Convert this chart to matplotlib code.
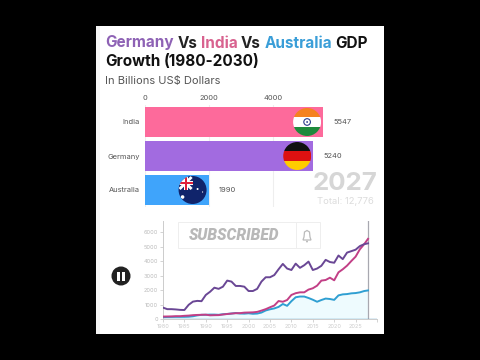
import numpy as np
import matplotlib
matplotlib.use("Agg")
import matplotlib.pyplot as plt
from matplotlib.patches import Circle, Rectangle, Polygon

# ---- data ----
countries = ["India", "Germany", "Australia"]
current_values = [5547, 5240, 1990]
bar_colors = ["#fd6a9b", "#a26be0", "#3fa4fb"]
bar_ticks = [0, 2000, 4000]
year_label = "2027"
total_label = "Total: 12,776"

years = list(range(1980, 2028)) + [2027.9]
germany = [805, 700, 700, 680, 650, 640, 1000, 1220, 1270, 1250, 1680, 1900, 2180, 2100, 2250,
           2670, 2600, 2300, 2300, 2250, 1950, 1950, 2100, 2600, 2900, 2900, 3050, 3450, 3820,
           3500, 3400, 3840, 3550, 3730, 3980, 3400, 3500, 3690, 4100, 3950, 3900, 4400, 4150,
           4600, 4700, 4800, 5050, 5180, 5240]
india = [190, 195, 200, 215, 215, 240, 255, 285, 300, 310, 320, 275, 285, 290, 330,
         365, 395, 420, 425, 460, 470, 480, 510, 600, 700, 830, 950, 1260, 1210, 1330,
         1680, 1800, 1860, 1860, 2050, 2140, 2320, 2670, 2710, 2870, 2690, 3240, 3450,
         3700, 4020, 4320, 4830, 5180, 5547]
australia = [150, 160, 165, 170, 170, 170, 180, 210, 270, 310, 310, 325, 325, 310, 350,
             370, 400, 435, 400, 390, 415, 380, 395, 465, 610, 690, 750, 855, 1055, 930,
             1250, 1520, 1570, 1570, 1470, 1350, 1210, 1330, 1430, 1400, 1340, 1650, 1720,
             1740, 1790, 1810, 1860, 1950, 1990]
line_xticks = [1980, 1985, 1990, 1995, 2000, 2005, 2010, 2015, 2020, 2025, 2030]
line_xlabels = ["1980", "1985", "1990", "1995", "2000", "2005", "2010", "2015", "2020", "2025", ""]
line_yticks = [0, 1000, 2000, 3000, 4000, 5000, 6000]

W, H = 480, 360
FONT = "Inter"
plt.rcParams["font.family"] = FONT
fig = plt.figure(figsize=(W / 100, H / 100), dpi=100, facecolor="black")


def pix_axes(l, t, r, b, **kw):
    return fig.add_axes([l / W, 1 - b / H, (r - l) / W, (b - t) / H], **kw)


# pixel-space canvas for panel and decoration
bg = pix_axes(0, 0, W, H, zorder=0)
bg.set_xlim(0, W); bg.set_ylim(H, 0); bg.axis("off")
bg.add_patch(Rectangle((96, 26), 288, 308, fc="white", ec="none"))
bg.add_patch(Rectangle((96, 26), 4, 308, fc="#f4f4f4", ec="none"))

renderer = fig.canvas.get_renderer()


def runs(x, y, parts, size, weight="bold"):
    for s, c in parts:
        t = bg.text(x, y, s, color=c, fontsize=size, fontweight=weight, va="center", ha="left")
        x = t.get_window_extent(renderer).x1 + 3.6


runs(105, 43, [("Germany", "#8e62b5"), ("Vs", "#222222"), ("India", "#d8628f"), ("Vs", "#222222"),
               ("Australia", "#3a9ed8"), ("GDP", "#111111")], 11.0)
runs(105, 62, [("Growth", "#111111"), ("(1980-2030)", "#111111")], 11.0)
bg.text(105, 81, "In Billions US$ Dollars", color="#555555", fontsize=8.0, va="center")

# bar chart
ax = pix_axes(144.5, 105, 384, 207, zorder=1)
ax.patch.set_alpha(0)
ax.set_xlim(0, 239.5 / 0.0322)
ax.set_ylim(2.5, -0.5)
ypos = np.arange(len(countries))
ax.barh(ypos, current_values, height=30 / 34, color=bar_colors, zorder=2)
ax.set_xticks(bar_ticks)
ax.xaxis.tick_top()
ax.set_xticklabels([str(v) for v in bar_ticks], fontsize=5.4, color="#555555")
ax.set_yticks(ypos)
ax.set_yticklabels(countries, fontsize=5.4, color="#555555")
ax.tick_params(length=0, pad=3)
ax.tick_params(axis="y", pad=3.5)
for s in ax.spines.values():
    s.set_visible(False)
ax.grid(axis="x", color="#eeeeee", lw=0.8, zorder=1)
for y, v in zip(ypos, current_values):
    ax.annotate(str(v), (v, y), xytext=(10, 0), textcoords="offset pixels", fontsize=5.4,
                color="#555555", va="center", ha="left")

# flags in pixel coordinates, following the bar ends
fg = pix_axes(0, 0, W, H, zorder=3)
fg.set_xlim(0, W); fg.set_ylim(H, 0); fg.axis("off"); fg.patch.set_alpha(0)


def bar_end_px(y, v):
    px = ax.transData.transform((v, y))
    return px[0] - 16, H - px[1]


def clip_circle(cx, cy, r, fc="none"):
    c = Circle((cx, cy), r, fc=fc, ec="none", zorder=4)
    fg.add_patch(c)
    return c


def stripes(cx, cy, r, colors):
    clip = clip_circle(cx, cy, r)
    h = 2 * r / len(colors)
    for i, col in enumerate(colors):
        p = Rectangle((cx - r, cy - r + i * h), 2 * r, h, fc=col, ec="none", zorder=5)
        fg.add_patch(p)
        p.set_clip_path(clip)


cx, cy = bar_end_px(0, current_values[0])
stripes(cx, cy, 14, ["#f58220", "#ffffff", "#1e8a3c"])
fg.add_patch(Circle((cx, cy), 3.3, fc="none", ec="#2a3a8c", lw=0.8, zorder=6))
fg.add_patch(Circle((cx, cy), 0.9, fc="#2a3a8c", ec="none", zorder=6))

cx, cy = bar_end_px(1, current_values[1])
stripes(cx, cy, 14, ["#111111", "#dd1111", "#ffcc00"])

cx, cy = bar_end_px(2, current_values[2])
clip = clip_circle(cx, cy, 14, fc="#10246b")
items = [Rectangle((cx - 14, cy - 14), 14, 14, fc="#1a2a70", ec="none", zorder=5),
         Polygon([(cx - 14, cy - 12), (cx - 12, cy - 14), (cx, cy - 2), (cx - 2, cy)], fc="white", ec="none", zorder=6),
         Polygon([(cx - 14, cy - 2), (cx - 12, cy), (cx, cy - 12), (cx - 2, cy - 14)], fc="white", ec="none", zorder=6),
         Rectangle((cx - 14, cy - 9), 14, 4, fc="white", ec="none", zorder=6),
         Rectangle((cx - 9, cy - 14), 4, 14, fc="white", ec="none", zorder=6),
         Rectangle((cx - 14, cy - 8), 14, 2, fc="#e0203a", ec="none", zorder=7),
         Rectangle((cx - 8, cy - 14), 2, 14, fc="#e0203a", ec="none", zorder=7),
         Circle((cx - 10, cy + 7), 1.8, fc="white", ec="none", zorder=6),
         Circle((cx + 5, cy - 1), 1, fc="white", ec="none", zorder=6),
         Circle((cx + 10, cy + 2), 0.6, fc="white", ec="none", zorder=6)]
for it in items:
    fg.add_patch(it)
    it.set_clip_path(clip)

fg.text(345, 183, year_label, fontsize=18.6, fontweight="bold", color="#d6d6d6", ha="center", va="center")
fg.text(345, 202, total_label, fontsize=6.8, color="#dcdcdc", ha="center", va="center")

# line chart
lx = pix_axes(163, 221, 377, 319.3, zorder=2)
lx.patch.set_alpha(0)
lx.set_xlim(1980, 2030)
lx.set_ylim(0, 6780)
lx.fill_between(years, australia, color="#eefbfe", lw=0, zorder=1)
lx.plot(years, australia, color="#2f9fd2", lw=1.4, zorder=3)
lx.plot(years, india, color="#c23f86", lw=1.4, zorder=4)
lx.plot(years, germany, color="#6a4795", lw=1.4, zorder=5)
lx.axvline(years[-1], color="#a8a8b0", lw=0.9, zorder=2)
lx.axhline(0, color="#5aa0c8", lw=1.0, zorder=2)
lx.set_xticks(line_xticks)
lx.set_xticklabels(line_xlabels, fontsize=4.0, color="#cccccc")
lx.set_yticks(line_yticks)
lx.set_yticklabels([str(v) for v in line_yticks], fontsize=4.0, color="#bbbbbb")
lx.tick_params(length=2, width=0.6, color="#cccccc", pad=1.5)
for k in ["top", "right"]:
    lx.spines[k].set_visible(False)
for k in ["left", "bottom"]:
    lx.spines[k].set_color("#cccccc")
    lx.spines[k].set_linewidth(0.7)

# subscribed overlay and pause button
fg.add_patch(Rectangle((178, 222), 142, 26, fc="white", ec="#ececec", lw=0.7, alpha=0.9, zorder=8))
fg.plot([296, 296], [223, 247], color="#eeeeee", lw=0.7, zorder=9)
fg.text(234.5, 236, "SUBSCRIBED", fontsize=11.2, fontweight="black", style="italic", color="#b8b8b8",
        ha="center", va="center", family="Roboto", zorder=10)
fg.add_patch(Polygon([(303, 240), (311, 240), (310, 237), (309.5, 232), (307, 230.5), (304.5, 232), (304, 237)],
                     fc="white", ec="#bbbbbb", lw=0.9, zorder=10))
fg.add_patch(Circle((307, 241.5), 1, fc="#bbbbbb", ec="none", zorder=10))
fg.add_patch(Circle((121, 276), 9.5, fc="#222222", ec="none", zorder=10))
fg.add_patch(Rectangle((117, 271.5), 3, 9, fc="white", ec="none", zorder=11))
fg.add_patch(Rectangle((122, 271.5), 3, 9, fc="white", ec="none", zorder=11))

fig.savefig("out.png", dpi=100, facecolor="black")
